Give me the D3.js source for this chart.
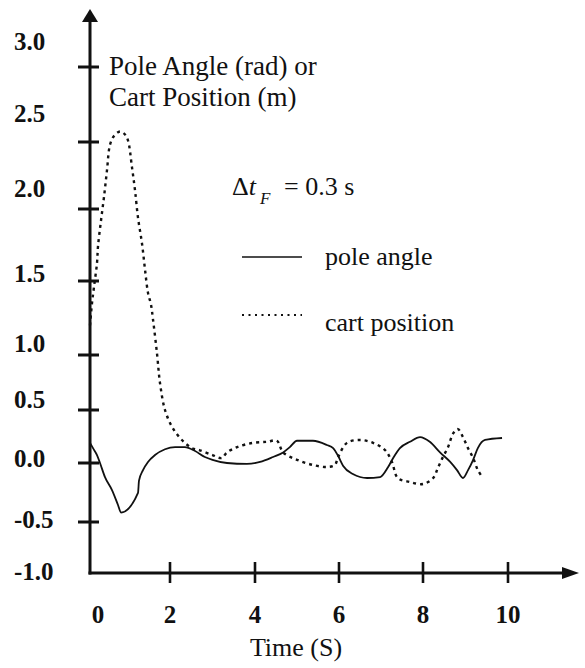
<!DOCTYPE html>
<html>
<head>
<meta charset="utf-8">
<script src="https://cdn.jsdelivr.net/npm/d3@7"></script>
</head>
<body style="margin:0">
<svg id="chart" width="585" height="668" style="display:block"></svg>
<script>
// ---------- data ----------
const xTicks = [0, 2, 4, 6, 8, 10];
const yTicks = [-1.0, -0.5, 0.0, 0.5, 1.0, 1.5, 2.0, 2.5, 3.0];
const yTickLabels = ["-1.0", "-0.5", "0.0", "0.5", "1.0", "1.5", "2.0", "2.5", "3.0"];

const cartT = [0, 0.05, 0.1, 0.175, 0.2, 0.275, 0.35, 0.425, 0.5, 0.6, 0.75, 0.875, 0.95, 1.05, 1.125, 1.2, 1.3, 1.375, 1.45, 1.525, 1.575, 1.675, 1.75, 1.875, 2.05, 2.28, 2.52, 2.7, 3.0, 3.22, 3.34, 3.58, 3.95, 4.29, 4.52, 4.67, 5.0, 5.38, 5.71, 5.9, 5.98, 6.19, 6.5, 6.81, 7.1, 7.26, 7.4, 7.69, 8.0, 8.24, 8.35, 8.47, 8.59, 8.71, 8.82, 8.94, 9.06, 9.18, 9.29, 9.41];
const cartPos = [1.20, 1.35, 1.46, 1.625, 1.74, 1.92, 2.09, 2.29, 2.48, 2.54, 2.57, 2.55, 2.51, 2.31, 2.14, 1.94, 1.76, 1.58, 1.42, 1.34, 1.24, 1.01, 0.745, 0.50, 0.34, 0.217, 0.14, 0.12, 0.075, 0.047, 0.10, 0.15, 0.19, 0.20, 0.21, 0.10, 0.03, -0.017, -0.034, -0.017, 0.057, 0.19, 0.217, 0.19, 0.12, 0.01, -0.127, -0.161, -0.178, -0.127, -0.042, 0.057, 0.15, 0.28, 0.32, 0.245, 0.14, 0.047, -0.06, -0.127];

const poleT = [0, 0.075, 0.175, 0.25, 0.375, 0.55, 0.7, 0.775, 1.2, 1.225, 1.325, 1.45, 1.625, 1.875, 2.12, 2.35, 2.59, 2.82, 3.0, 3.34, 3.81, 4.12, 4.43, 4.67, 4.83, 5.0, 5.38, 5.71, 5.86, 5.98, 6.1, 6.33, 6.67, 6.98, 7.17, 7.29, 7.45, 7.69, 7.93, 8.16, 8.4, 8.64, 8.8, 8.94, 9.06, 9.18, 9.29, 9.46, 9.86];
const poleAngle = [0.19, 0.14, 0.075, 0.0, -0.12, -0.23, -0.356, -0.42, -0.254, -0.15, -0.06, 0.01, 0.075, 0.13, 0.15, 0.15, 0.113, 0.057, 0.03, 0.0, -0.008, 0.01, 0.057, 0.10, 0.15, 0.21, 0.21, 0.17, 0.14, 0.066, -0.025, -0.093, -0.127, -0.119, -0.034, 0.047, 0.14, 0.20, 0.245, 0.20, 0.10, 0.01, -0.06, -0.127, -0.06, 0.03, 0.14, 0.217, 0.236];

const legendLabels = ["pole angle", "cart position"];

// ---------- scales ----------
const svg = d3.select("#chart");
const x = d3.scaleLinear().domain(xTicks).range([90, 170, 255, 339, 423, 508]);
const y = d3.scaleLinear().domain(yTicks).range([573, 522, 463, 410, 355, 281, 209, 142, 67]);
const yLabel = d3.scaleLinear().domain(yTicks).range([580, 528, 467, 408, 352, 282, 197, 122, 50]);

const ink = "#111";
const FONT = '"Times New Roman", "Liberation Serif", Tinos, "Nimbus Roman", FreeSerif, "DejaVu Serif", serif';

// ---------- axes ----------
svg.append("line").attr("x1", 90).attr("x2", 90).attr("y1", y(-1) + 1.5).attr("y2", 18)
  .attr("stroke", ink).attr("stroke-width", 3);
svg.append("path").attr("d", "M90,9 L82,22 L98,22 Z").attr("fill", ink);

svg.append("line").attr("x1", 88.5).attr("x2", 566).attr("y1", y(-1)).attr("y2", y(-1))
  .attr("stroke", ink).attr("stroke-width", 3);
svg.append("path").attr("d", `M579,${y(-1)} L562,${y(-1) - 6} L562,${y(-1) + 6} Z`).attr("fill", ink);

// y ticks
svg.selectAll(".ytick").data(yTicks.slice(1)).join("line")
  .attr("x1", 78).attr("x2", 99)
  .attr("y1", d => y(d)).attr("y2", d => y(d))
  .attr("stroke", ink).attr("stroke-width", 3);

svg.selectAll(".ylab").data(yTicks).join("text")
  .attr("x", 14).attr("y", d => yLabel(d))
  .style("font-family", FONT)
  .style("font-size", "25px").style("font-weight", "bold").style("fill", ink)
  .text((d, i) => yTickLabels[i]);

// x ticks
svg.selectAll(".xtick").data(xTicks.slice(1)).join("line")
  .attr("x1", d => x(d)).attr("x2", d => x(d))
  .attr("y1", 562).attr("y2", 583)
  .attr("stroke", ink).attr("stroke-width", 2.6);

svg.selectAll(".xlab").data(xTicks).join("text")
  .attr("x", d => x(d) + (d === 0 ? 8 : 0)).attr("y", 623)
  .attr("text-anchor", "middle")
  .style("font-family", FONT)
  .style("font-size", "25px").style("font-weight", "bold").style("fill", ink)
  .text(d => d);

svg.append("text").attr("x", 296).attr("y", 656).attr("text-anchor", "middle")
  .style("font-family", FONT)
  .style("font-size", "26px").style("fill", ink).text("Time (S)");

// y title
svg.append("text").attr("x", 109).attr("y", 75).style("font-family", FONT).style("font-size", "27px").style("fill", ink).text("Pole Angle (rad) or");
svg.append("text").attr("x", 109).attr("y", 106).style("font-family", FONT).style("font-size", "27px").style("fill", ink).text("Cart Position (m)");

// ---------- lines ----------
const cartData = cartT.map((t, i) => [t, cartPos[i]]);
const poleData = poleT.map((t, i) => [t, poleAngle[i]]);

const lineCurve = d3.line().x(d => x(d[0])).y(d => y(d[1])).curve(d3.curveCatmullRom.alpha(0.5));
const lineMono = d3.line().x(d => x(d[0])).y(d => y(d[1])).curve(d3.curveMonotoneX);

svg.append("path").datum(poleData).attr("d", lineMono)
  .attr("fill", "none").attr("stroke", ink).attr("stroke-width", 1.8).attr("stroke-linejoin", "round");

svg.append("path").datum(cartData).attr("d", lineCurve)
  .attr("fill", "none").attr("stroke", ink).attr("stroke-width", 2.4)
  .attr("stroke-dasharray", "3,4");

// ---------- legend ----------
const lt = svg.append("text").attr("x", 232).attr("y", 195).style("font-family", FONT).style("font-size", "26px").style("fill", ink);
lt.append("tspan").text("\u0394");
lt.append("tspan").style("font-style", "italic").text("t");
lt.append("tspan").style("font-style", "italic").style("font-size", "17px").attr("dx", 4).attr("dy", 9).text("F");
lt.append("tspan").attr("x", 284).attr("dy", -9).text("= 0.3 s");

svg.append("line").attr("x1", 242).attr("x2", 302).attr("y1", 257).attr("y2", 257)
  .attr("stroke", ink).attr("stroke-width", 1.6);
svg.append("line").attr("x1", 242).attr("x2", 302).attr("y1", 315).attr("y2", 315)
  .attr("stroke", ink).attr("stroke-width", 1.8).attr("stroke-dasharray", "2,4.5");

svg.selectAll(".leg").data(legendLabels).join("text")
  .attr("x", 325).attr("y", (d, i) => 265 + i * 66)
  .style("font-family", FONT)
  .style("font-size", "26px").style("fill", ink).text(d => d);
</script>
</body>
</html>
